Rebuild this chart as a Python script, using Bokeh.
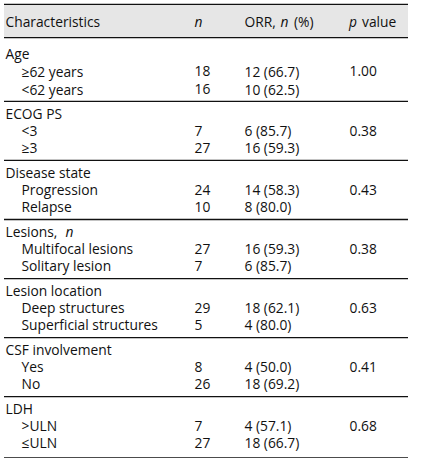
from bokeh.plotting import figure
from bokeh.models import Range1d, ColumnDataSource
from bokeh.core.properties import value
from bokeh.embed import file_html
from bokeh.resources import INLINE

# ---- data ----
headers = ["Characteristics", "n", "ORR, n (%)", "p value"]
groups = ["Age", "ECOG PS", "Disease state", "Lesions,", "Lesion location", "CSF involvement", "LDH"]
group_italic = ["", "", "", "n", "", "", ""]
subgroups = [["≥62 years", "<62 years"], ["<3", "≥3"], ["Progression", "Relapse"],
             ["Multifocal lesions", "Solitary lesion"], ["Deep structures", "Superficial structures"],
             ["Yes", "No"], [">ULN", "≤ULN"]]
n_vals = [[18, 16], [7, 27], [24, 10], [27, 7], [29, 5], [8, 26], [7, 27]]
orr_n = [[12, 10], [6, 16], [14, 8], [16, 6], [18, 4], [4, 18], [4, 18]]
orr_pct = [[66.7, 62.5], [85.7, 59.3], [58.3, 80.0], [59.3, 85.7], [62.1, 80.0], [50.0, 69.2], [57.1, 66.7]]
p_vals = ["1.00", "0.38", "0.43", "0.38", "0.63", "0.41", "0.68"]

# ---- layout (reference pixel space -> figure space) ----
W, H = 408, 458
SY = 454.0 / 466.0
TEXT_SHIFT = -5.5
def X(x):
    return x
def Y(y):
    return 3.5 + (y - 3.5) * SY

FONT = "Open Sans"
FS = "13.8px"
COLOR = "#111111"

p = figure(width=W, height=H, x_range=Range1d(0, W), y_range=Range1d(H, 0),
           output_backend="svg", toolbar_location=None, min_border=0)
p.axis.visible = False
p.grid.visible = False
p.outline_line_color = None
p.background_fill_color = "white"
p.border_fill_color = "white"

XL, XR = 3.5, 407.5

# header band
p.quad(left=[XL], right=[XR], top=[Y(3.5)], bottom=[Y(38)],
       fill_color="#e6e6e6", line_color=None)

# block layout
lines_y = [3.8, 38.0]
L = 103.5
block_lines = [38.0]
for i in range(1, len(groups)):
    block_lines.append(L)
    lines_y.append(L)
    L += 60.6
lines_y.append(469.5)

p.segment(x0=[XL] * len(lines_y), x1=[XR] * len(lines_y),
          y0=[Y(v) for v in lines_y], y1=[Y(v) for v in lines_y],
          line_color="#111111", line_width=1.3)

xs, ys, txt, styles = [], [], [], []
def add(x, y, t, st="normal"):
    xs.append(X(x)); ys.append(Y(y) + TEXT_SHIFT); txt.append(t); styles.append(st)

# header
hb = 27.5
add(5, hb, "Characteristics")
add(194, hb, "n", "italic")
add(244, hb, "ORR,")
add(280, hb, "n", "italic")
add(293.5, hb, "(%)")
add(348.5, hb, "p", "italic")
add(361.5, hb, "value")

for i, g in enumerate(groups):
    Lb = block_lines[i]
    if i == 0:
        gy, r1, r2 = Lb + 21.5, Lb + 40, Lb + 58.5
    else:
        gy, r1, r2 = Lb + 18, Lb + 35.5, Lb + 53
    add(5, gy, g)
    if group_italic[i]:
        add(65, gy, group_italic[i], "italic")
    for j, ry in enumerate([r1, r2]):
        add(21, ry, subgroups[i][j])
        add(194, ry, str(n_vals[i][j]))
        add(244, ry, "%d (%.1f)" % (orr_n[i][j], orr_pct[i][j]))
    add(349, r1, p_vals[i])

src = ColumnDataSource(dict(x=xs, y=ys, text=txt, style=styles))
p.text(x="x", y="y", text="text", source=src, text_font=value(FONT),
       text_font_size=value(FS), text_font_style="style", text_color=COLOR,
       text_baseline="alphabetic", text_align="left")

open("out.html", "w").write(file_html(p, INLINE))
